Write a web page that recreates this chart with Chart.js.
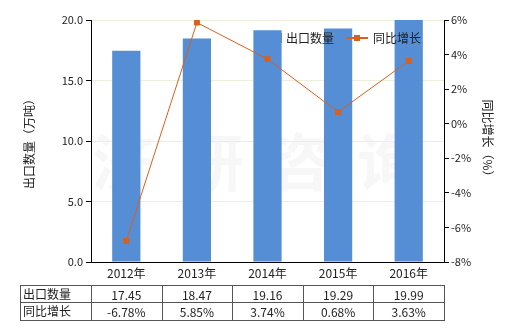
<!DOCTYPE html>
<html>
<head>
<meta charset="utf-8">
<script src="https://cdn.jsdelivr.net/npm/chart.js@4.4.0/dist/chart.umd.min.js"></script>
<style>
  html, body { margin: 0; padding: 0; background: #fff; }
  #wrap { width: 520px; height: 330px; }
</style>
</head>
<body>
<div id="wrap"><canvas id="c" width="520" height="330"></canvas></div>
<script>
// 数据
var years = ['2012年', '2013年', '2014年', '2015年', '2016年'];
var exportQty = [17.45, 18.47, 19.16, 19.29, 19.99];
var yoyGrowth = [-6.78, 5.85, 3.74, 0.68, 3.63];
var qtyLabels = ['17.45', '18.47', '19.16', '19.29', '19.99'];
var growthLabels = ['-6.78%', '5.85%', '3.74%', '0.68%', '3.63%'];

var FONT = '"Microsoft YaHei", "Noto Sans CJK SC", sans-serif';
var BAR = '#558ed5';
var LINE = '#d9601c';

// 水印、标题、图例、数据表
var extras = {
  id: 'extras',
  beforeDatasetDraw: function (chart, args) {
    if (args.index !== 1) return;
    var ctx = chart.ctx;
    ctx.save();
    ctx.font = 'bold 62px ' + FONT;
    ctx.fillStyle = 'rgba(238,238,238,0.45)';
    ctx.textAlign = 'center';
    ctx.textBaseline = 'middle';
    var xs = [123, 213, 300, 388];
    var chars = ['济', '研', '咨', '询'];
    for (var i = 0; i < 4; i++) ctx.fillText(chars[i], xs[i], 162);
    ctx.restore();
  },
  afterDraw: function (chart) {
    var ctx = chart.ctx;
    var x = chart.scales.x;
    ctx.save();
    ctx.fillStyle = '#222';
    ctx.font = '12px ' + FONT;
    ctx.textAlign = 'center';
    ctx.textBaseline = 'middle';

    // 轴标题
    ctx.save();
    ctx.translate(29, 141);
    ctx.rotate(-Math.PI / 2);
    ctx.fillText('出口数量（万吨）', 0, 0);
    ctx.restore();
    ctx.save();
    ctx.translate(488, 141);
    ctx.rotate(Math.PI / 2);
    ctx.fillText('同比增长（%）', 0, 0);
    ctx.restore();

    // 图例
    ctx.textAlign = 'left';
    ctx.fillStyle = BAR;
    ctx.fillRect(272, 33, 10, 10);
    ctx.fillStyle = '#222';
    ctx.fillText('出口数量', 286, 38);
    ctx.strokeStyle = LINE;
    ctx.lineWidth = 2;
    ctx.beginPath();
    ctx.moveTo(346, 38);
    ctx.lineTo(368, 38);
    ctx.stroke();
    ctx.fillStyle = LINE;
    ctx.fillRect(354, 35, 6, 6);
    ctx.fillStyle = '#222';
    ctx.fillText('同比增长', 373, 38);

    // 数据表
    var half = (x.getPixelForValue(1) - x.getPixelForValue(0)) / 2;
    var cols = [20];
    for (var i = 0; i < years.length; i++) cols.push(x.getPixelForValue(i) - half);
    cols.push(x.getPixelForValue(years.length - 1) + half);
    var rows = [285, 302, 320];
    ctx.strokeStyle = '#555';
    ctx.lineWidth = 1;
    ctx.beginPath();
    rows.forEach(function (r) {
      ctx.moveTo(cols[0], r + 0.5);
      ctx.lineTo(cols[cols.length - 1], r + 0.5);
    });
    cols.forEach(function (c) {
      var cx = Math.round(c) + 0.5;
      ctx.moveTo(cx, rows[0]);
      ctx.lineTo(cx, rows[2] + 1);
    });
    ctx.stroke();
    ctx.fillStyle = '#222';
    ctx.font = '12px ' + FONT;
    ctx.textAlign = 'left';
    ctx.fillText('出口数量', 23, 294);
    ctx.fillText('同比增长', 23, 311);
    ctx.textAlign = 'center';
    for (var j = 0; j < years.length; j++) {
      var px = x.getPixelForValue(j);
      ctx.fillText(qtyLabels[j], px, 295);
      ctx.fillText(growthLabels[j], px, 312);
    }
    ctx.restore();
  }
};

new Chart(document.getElementById('c'), {
  type: 'bar',
  data: {
    labels: years,
    datasets: [
      {
        type: 'line',
        label: '同比增长',
        data: yoyGrowth,
        yAxisID: 'y2',
        borderColor: LINE,
        backgroundColor: LINE,
        borderWidth: 1,
        pointStyle: 'rect',
        pointRadius: 3.5,
        pointHoverRadius: 3.5,
        tension: 0,
        order: 0
      },
      {
        label: '出口数量',
        data: exportQty,
        yAxisID: 'y',
        backgroundColor: BAR,
        categoryPercentage: 1,
        barPercentage: 0.4,
        order: 1
      }
    ]
  },
  options: {
    responsive: false,
    animation: false,
    layout: { padding: { top: 20, bottom: 48, left: 0, right: 0 } },
    plugins: {
      legend: { display: false },
      tooltip: { enabled: false }
    },
    scales: {
      x: {
        afterFit: function (s) { s.height = 20; },
        grid: { display: false, drawTicks: false },
        border: { color: '#000' },
        ticks: { color: '#222', font: { size: 12, family: FONT }, padding: 4, maxRotation: 0 }
      },
      y: {
        position: 'left',
        min: 0,
        max: 20,
        afterFit: function (s) { s.width = 91; },
        ticks: {
          stepSize: 5,
          color: '#222',
          font: { size: 11, family: FONT },
          padding: 3,
          callback: function (v) { return v.toFixed(1); }
        },
        grid: { color: '#eeeedd', tickLength: 5, tickColor: '#000' },
        border: { color: '#000' }
      },
      y2: {
        position: 'right',
        min: -8,
        max: 6,
        afterFit: function (s) { s.width = 76; },
        ticks: {
          stepSize: 2,
          color: '#222',
          font: { size: 11, family: FONT },
          padding: 2,
          callback: function (v) { return v + '%'; }
        },
        grid: { drawOnChartArea: false, tickLength: 5, tickColor: '#000' },
        border: { color: '#000' }
      }
    }
  },
  plugins: [extras]
});
</script>
</body>
</html>
